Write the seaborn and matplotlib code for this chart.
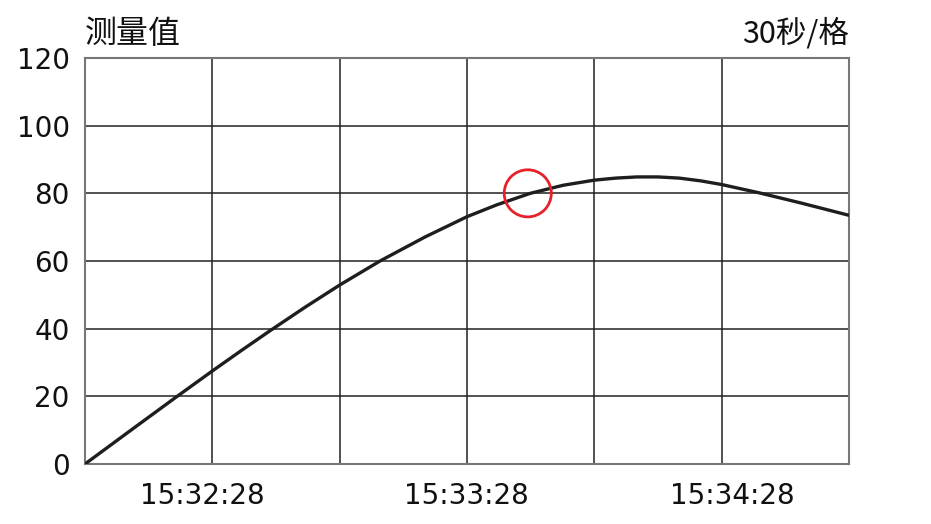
import matplotlib
matplotlib.use('Agg')
import matplotlib.pyplot as plt
import matplotlib.transforms as mtransforms
import seaborn as sns
import pandas as pd

# seconds since 15:31:58
t_sec = [0, 11.8, 21.6, 30, 36.9, 43.6, 51.8, 60, 69.5, 80.1, 90, 97, 104.9, 112.7,
         120, 125, 130, 135, 140, 145, 150, 159, 168.5, 180]
value = [0, 10.9, 19.9, 27.5, 33.6, 39.4, 46.3, 52.9, 60.0, 67.1, 73.1, 76.6, 80.0, 82.4,
         83.9, 84.5, 84.85, 84.85, 84.5, 83.7, 82.6, 80.1, 77.2, 73.5]

marker_t = [104.3]
marker_v = [80]

x_ticks = [0, 30, 60, 90, 120, 150, 180]
x_labels = ['', '15:32:28', '', '15:33:28', '', '15:34:28', '']
y_ticks = [0, 20, 40, 60, 80, 100, 120]

df = pd.DataFrame({'t': t_sec, 'v': value})
mk = pd.DataFrame({'t': marker_t, 'v': marker_v})

sns.set_style('white')
plt.rcParams['font.family'] = ['Noto Sans CJK SC', 'DejaVu Sans']

fig = plt.figure(figsize=(9.31, 5.24), dpi=100)
ax = fig.add_axes([0.0913, 0.1145, 0.8207, 0.7748])

sns.lineplot(x='t', y='v', data=df, color='#1e1e1e', linewidth=2.4, ax=ax, zorder=3)
sns.scatterplot(x='t', y='v', data=mk, s=1150, facecolor='none', edgecolor='#e8202a',
                linewidth=2, ax=ax, zorder=4)

ax.set_xlim(0, 180)
ax.set_ylim(0, 120)
ax.set_xticks(x_ticks)
ax.set_xticklabels(x_labels)
ax.set_yticks(y_ticks)
ax.grid(True, color='#222222', linewidth=1.1)
ax.tick_params(axis='both', length=0, labelsize=20, labelcolor='#111111')
ax.tick_params(axis='x', pad=13)
ax.tick_params(axis='y', pad=11)
for s in ax.spines.values():
    s.set_color('#777777')
    s.set_linewidth(1.5)
ax.set_xlabel('')
ax.set_ylabel('')

for lab in ax.get_xticklabels() + ax.get_yticklabels():
    lab.set_family('DejaVu Sans')

# x labels in the reference sit slightly off the grid lines
shifts = {'15:32:28': -10, '15:33:28': -1, '15:34:28': 11}
for lab in ax.get_xticklabels():
    dx = shifts.get(lab.get_text(), 0)
    lab.set_transform(lab.get_transform() + mtransforms.ScaledTranslation(dx / 100, 0, fig.dpi_scale_trans))

fig.text(0.0913, 0.918, '测量值', fontsize=23, ha='left', va='baseline', color='#111111')
fig.text(0.912, 0.918, '30秒/格', fontsize=22, ha='right', va='baseline', color='#111111')

fig.savefig('out.png', dpi=100)
